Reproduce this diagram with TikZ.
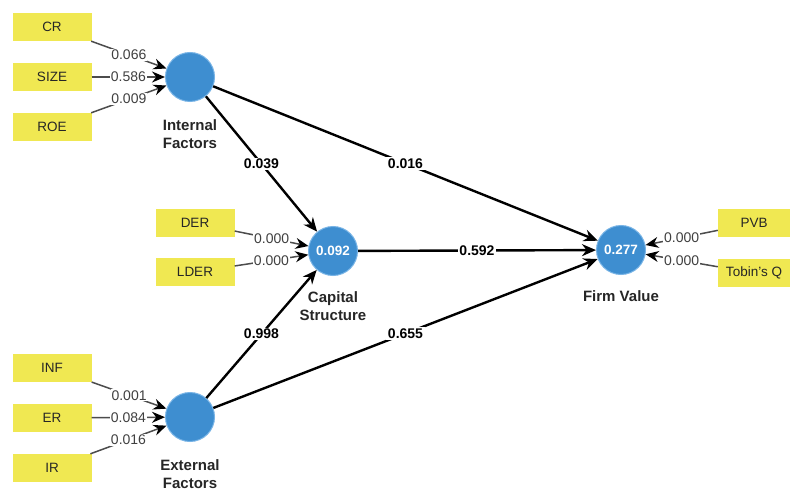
\documentclass[tikz,border=0pt]{standalone}
\usepackage{fontspec}
\setmainfont{Liberation Sans}
\usetikzlibrary{arrows.meta}
\definecolor{boxy}{RGB}{240,232,82}
\definecolor{lvblue}{RGB}{62,142,208}
\definecolor{lvedge}{RGB}{120,180,230}
\begin{document}
\begin{tikzpicture}[x=1pt,y=-1pt,
  ind/.style={fill=boxy, minimum width=79pt, minimum height=28pt, inner sep=0pt, font=\fontsize{13.5}{15}\selectfont, text=black!85},
  indr/.style={ind, minimum width=72pt},
  lv/.style={circle, fill=lvblue, draw=lvedge, line width=1pt, minimum size=49pt, inner sep=0pt, text=white, font=\bfseries\fontsize{13.5}{15}\selectfont},
  lvlab/.style={align=center, inner sep=0pt, font=\bfseries\fontsize{15}{18}\selectfont, text=black!85},
  inarrow/.style={line width=2.4pt, -{Stealth[length=14pt,width=12pt]}},
  outarrow/.style={line width=1.5pt, draw=black!70, -{Stealth[length=13pt,width=11pt,color=black]}},
  wlab/.style={fill=white, inner sep=1pt, font=\fontsize{14}{16}\selectfont, text=black!75},
  blab/.style={fill=white, inner sep=1.5pt, font=\bfseries\fontsize{14}{16}\selectfont}
]
\useasboundingbox (0,0) rectangle (790,492);
\fill[white] (0,0) rectangle (790,492);

% latent variables
\node[lv] (IF) at (190,77) {};
\node[lv] (CS) at (333,251) {0.092};
\node[lv] (EF) at (190,417) {};
\node[lv] (FV) at (621,250) {0.277};

\node[lvlab] (IFl) at (190,134) {Internal\\Factors};
\node[lvlab] (CSl) at (333,306) {Capital\\Structure};
\node[lvlab] (EFl) at (190,474) {External\\Factors};
\node[lvlab] (FVl) at (621,296) {Firm Value};

% indicators
\node[ind] (CR) at (52,27) {CR};
\node[ind] (SIZE) at (52,77) {SIZE};
\node[ind] (ROE) at (52,127) {ROE};
\node[ind] (DER) at (195,223) {DER};
\node[ind] (LDER) at (195,272) {LDER};
\node[ind] (INF) at (52,368) {INF};
\node[ind] (ER) at (52,418) {ER};
\node[ind] (IR) at (52,468) {IR};
\node[indr] (PVB) at (754,223) {PVB};
\node[indr] (TQ) at (754,273) {Tobin's Q};

% outer model
\draw[outarrow] (CR) -- node[wlab] {0.066} (IF);
\draw[outarrow] (SIZE) -- node[wlab] {0.586} (IF);
\draw[outarrow] (ROE) -- node[wlab] {0.009} (IF);
\draw[outarrow] (DER) -- node[wlab] {0.000} (CS);
\draw[outarrow] (LDER) -- node[wlab] {0.000} (CS);
\draw[outarrow] (INF) -- node[wlab] {0.001} (EF);
\draw[outarrow] (ER) -- node[wlab] {0.084} (EF);
\draw[outarrow] (IR) -- node[wlab] {0.016} (EF);
\draw[outarrow] (PVB) -- node[wlab] {0.000} (FV);
\draw[outarrow] (TQ) -- node[wlab] {0.000} (FV);

% inner model
\draw[inarrow] (IF) -- node[blab] {0.039} (CS);
\draw[inarrow] (IF) -- node[blab] {0.016} (FV);
\draw[inarrow] (CS) -- node[blab] {0.592} (FV);
\draw[inarrow] (EF) -- node[blab] {0.998} (CS);
\draw[inarrow] (EF) -- node[blab] {0.655} (FV);
\end{tikzpicture}
\end{document}
